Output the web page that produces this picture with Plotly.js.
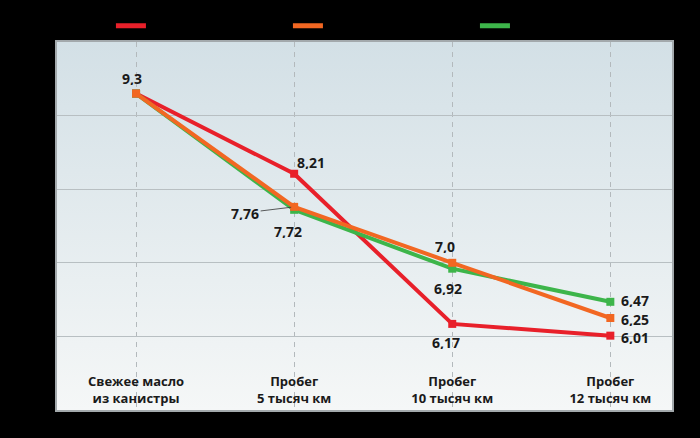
<!DOCTYPE html>
<html>
<head>
<meta charset="utf-8">
<script src="https://cdn.plot.ly/plotly-3.0.1.min.js"></script>
<style>html,body{margin:0;padding:0;background:#000;}#chart{width:700px;height:438px;}</style>
</head>
<body>
<div id="chart"></div>
<script>
const categories = ["Свежее масло<br>из канистры", "Пробег<br>5 тысяч км", "Пробег<br>10 тысяч км", "Пробег<br>12 тысяч км"];
const seriesNames = ["Масло 1", "Масло 2", "Масло 3"];
const redValues = [9.3, 8.21, 6.17, 6.01];
const orangeValues = [9.3, 7.76, 7.0, 6.25];
const greenValues = [9.3, 7.72, 6.92, 6.47];

const colors = {red: "#e8202a", orange: "#f26722", green: "#3db54a"};

function fmt(v) {
  const s = Number.isInteger(v) ? v.toFixed(1) : String(v);
  return s.replace(".", ",");
}

function trace(name, vals, color) {
  return {
    type: "scatter", mode: "lines+markers", name: name,
    x: categories, y: vals,
    line: {color: color, width: 4},
    marker: {color: color, symbol: "square", size: 8},
    showlegend: false, hoverinfo: "skip"
  };
}
function legendProxy(name, color, legendId) {
  return {
    type: "scatter", mode: "lines", name: name, x: [null], y: [null],
    line: {color: color, width: 5}, legend: legendId, showlegend: true, hoverinfo: "skip"
  };
}

const data = [
  trace(seriesNames[0], redValues, colors.red),
  trace(seriesNames[2], greenValues, colors.green),
  trace(seriesNames[1], orangeValues, colors.orange),
  legendProxy(seriesNames[0], colors.red, "legend"),
  legendProxy(seriesNames[1], colors.orange, "legend2"),
  legendProxy(seriesNames[2], colors.green, "legend3")
];

// label placement (style): [series values, index, xshift, yshift, xanchor]
const labelFont = {family: "Open Sans, sans-serif", size: 14, color: "#1a1a1a", weight: "bold"};
const placements = [
  [redValues, 0, -4, 16, "center"],
  [redValues, 1, 17, 12, "center"],
  [orangeValues, 2, -7, 17, "center"],
  [greenValues, 1, -6, -21, "center"],
  [greenValues, 2, -4, -19, "center"],
  [redValues, 2, -6, -18, "center"],
  [greenValues, 3, 9, 2, "left"],
  [orangeValues, 3, 9, -1, "left"],
  [redValues, 3, 9, -1, "left"]
];
const annotations = placements.map(p => ({
  x: categories[p[1]], y: p[0][p[1]], xref: "x", yref: "y",
  text: "<b>" + fmt(p[0][p[1]]) + "</b>", showarrow: false, height: 14,
  xshift: p[2], yshift: p[3], xanchor: p[4], font: labelFont
}));
annotations.push({
  x: categories[1], y: orangeValues[1], xref: "x", yref: "y",
  text: "<b>" + fmt(orangeValues[1]) + "</b>", showarrow: true, height: 14,
  arrowhead: 0, arrowwidth: 0.8, arrowcolor: "#333", standoff: 3,
  ax: -49, ay: 6, font: labelFont
});

const grad = 'data:image/svg+xml;utf8,' + encodeURIComponent(
  '<svg xmlns="http://www.w3.org/2000/svg" width="10" height="100" preserveAspectRatio="none">' +
  '<defs><linearGradient id="g" x1="0" y1="0" x2="0" y2="1">' +
  '<stop offset="0" stop-color="#d3e0e6"/><stop offset="1" stop-color="#f5f7f7"/>' +
  '</linearGradient></defs><rect width="10" height="100" fill="url(#g)"/></svg>');

function legendAt(x) {
  return {
    orientation: "h", x: x, y: 1.044, xanchor: "left", yanchor: "middle",
    font: {family: "Open Sans, sans-serif", size: 13, color: "#000000"},
    bgcolor: "rgba(0,0,0,0)", borderwidth: 0
  };
}

const layout = {
  width: 700, height: 438,
  paper_bgcolor: "#000000",
  plot_bgcolor: "rgba(0,0,0,0)",
  margin: {l: 57, r: 28, t: 42, b: 28, autoexpand: false},
  showlegend: true,
  legend: legendAt(0.0877),
  legend2: legendAt(0.3755),
  legend3: legendAt(0.6796),
  images: [{
    source: grad, xref: "paper", yref: "paper", x: 0, y: 1, sizex: 1, sizey: 1,
    xanchor: "left", yanchor: "top", sizing: "stretch", layer: "below"
  }],
  xaxis: {
    type: "category", range: [-0.5, 3.39],
    showgrid: true, gridcolor: "#b3b9bc", gridwidth: 1, griddash: "5px,5px",
    ticklabelposition: "inside", ticks: "", ticklabelstandoff: 4,
    tickfont: {family: "Open Sans, sans-serif", size: 13, color: "#1a1a1a", weight: "bold"},
    showline: true, mirror: true, linecolor: "#a3a9ac", linewidth: 2,
    zeroline: false, fixedrange: true
  },
  yaxis: {
    range: [5, 10], dtick: 1, showticklabels: false, ticks: "",
    showgrid: true, gridcolor: "#b8bfc2", gridwidth: 1,
    showline: true, mirror: true, linecolor: "#a3a9ac", linewidth: 2,
    zeroline: false, fixedrange: true
  },
  annotations: annotations
};

Plotly.newPlot("chart", data, layout, {staticPlot: true, displayModeBar: false});
</script>
</body>
</html>
